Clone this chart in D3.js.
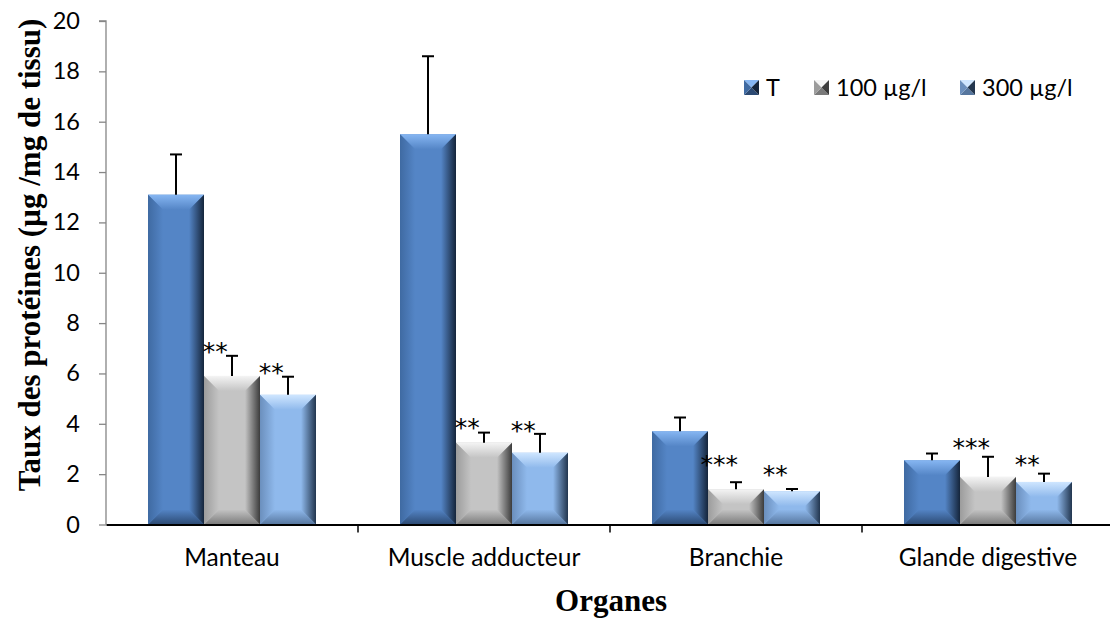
<!DOCTYPE html>
<html>
<head>
<meta charset="utf-8">
<script src="https://cdn.jsdelivr.net/npm/d3@7"></script>
<style>
  html, body { margin: 0; padding: 0; background: #fff; }
  svg { display: block; }
</style>
</head>
<body>
<svg id="chart" width="1110" height="621"></svg>
<script>
// ---- data ----
const categories = ["Manteau", "Muscle adducteur", "Branchie", "Glande digestive"];
const seriesNames = ["T", "100 µg/l", "300 µg/l"];
const valuesT   = [13.1, 15.5, 3.7, 2.55];
const values100 = [5.9, 3.25, 1.4, 1.89];
const values300 = [5.15, 2.85, 1.32, 1.69];
const errT   = [1.6, 3.1, 0.55, 0.27];
const err100 = [0.8, 0.4, 0.28, 0.8];
const err300 = [0.72, 0.75, 0.09, 0.33];
// significance marks: [category index, series index, text, level (axis units)]
const marks = [
  [0, 1, "**", 7.1], [0, 2, "**", 6.25],
  [1, 1, "**", 4.05], [1, 2, "**", 3.95],
  [2, 1, "***", 2.6], [2, 2, "**", 2.2],
  [3, 1, "***", 3.25], [3, 2, "**", 2.6]
];
const yTicks = [0, 2, 4, 6, 8, 10, 12, 14, 16, 18, 20];
const yTitle = "Taux des protéines (µg /mg de tissu)";
const xTitle = "Organes";

(function () {
const seriesValues = [valuesT, values100, values300];
const seriesErr = [errT, err100, err300];

const palettes = [
  { base: "#5485c6", top: "#86b6f2", left: "#3f6aa2", right: "#15253b", bottom: "#2c4a73" },
  { base: "#c4c4c4", top: "#f4f4f4", left: "#9c9c9c", right: "#3c3c3c", bottom: "#7a7a7a" },
  { base: "#8fb9ec", top: "#cfe6ff", left: "#6b8fbd", right: "#22364f", bottom: "#56769e" }
];

// ---- layout ----
const svg = d3.select("#chart");
const pL = 106, pR = 1114, pT = 21, pB = 524.5;
const sans = "Lato, 'Open Sans', sans-serif";
const serif = "'Liberation Serif', 'Times New Roman', serif";

const x0 = d3.scaleBand().domain(categories).range([pL, pR]).paddingInner(0).paddingOuter(0);
const x1 = d3.scaleBand().domain(d3.range(3)).range([0, x0.bandwidth()]).paddingInner(0).paddingOuter(0.75);
const y = d3.scaleLinear().domain([0, 20]).range([pB, pT]);

// gradients
const defs = svg.append("defs");
palettes.forEach((p, i) => {
  const mk = (id, ax, ay, bx, by, c1, c2) => {
    const g = defs.append("linearGradient").attr("id", id)
      .attr("x1", ax).attr("y1", ay).attr("x2", bx).attr("y2", by);
    g.append("stop").attr("offset", "0%").attr("stop-color", c1);
    g.append("stop").attr("offset", "100%").attr("stop-color", c2);
  };
  mk("gTop" + i, 0, 0, 0, 1, p.top, p.base);
  mk("gBot" + i, 0, 0, 0, 1, p.base, p.bottom);
  mk("gLeft" + i, 0, 0, 1, 0, p.left, p.base);
  mk("gRight" + i, 0, 0, 1, 0, p.base, p.right);
});

function bevelBox(g, xa, ya, w, h, si, bev) {
  const b = Math.min(bev, w / 2, h / 2);
  const xb = xa + w, yb = ya + h;
  g.append("rect").attr("x", xa).attr("y", ya).attr("width", w).attr("height", h).attr("fill", palettes[si].base);
  const poly = (pts, fill) => g.append("polygon").attr("points", pts.map(p => p.join(",")).join(" ")).attr("fill", fill);
  poly([[xa, ya], [xb, ya], [xb - b, ya + b], [xa + b, ya + b]], `url(#gTop${si})`);
  poly([[xa, yb], [xb, yb], [xb - b, yb - b], [xa + b, yb - b]], `url(#gBot${si})`);
  poly([[xa, ya], [xa + b, ya + b], [xa + b, yb - b], [xa, yb]], `url(#gLeft${si})`);
  poly([[xb, ya], [xb - b, ya + b], [xb - b, yb - b], [xb, yb]], `url(#gRight${si})`);
}

// y axis
const yAxis = d3.axisLeft(y).tickValues(yTicks).tickSize(7).tickPadding(19).tickFormat(d3.format("d"));
const gy = svg.append("g").attr("transform", `translate(${pL},0)`).call(yAxis);
gy.select(".domain").attr("stroke", "#868686").attr("stroke-width", 1.3).attr("d", `M-7,${pT}H0V${pB}`);
gy.selectAll(".tick line").attr("stroke", "#868686").attr("stroke-width", 1.3);
gy.selectAll(".tick text").attr("fill", "#000").style("font-family", sans).style("font-size", "23.5px");

// bars
const barsG = svg.append("g");
categories.forEach((c, ci) => {
  seriesValues.forEach((vals, si) => {
    const xa = x0(c) + x1(si);
    const w = x1.bandwidth();
    const ya = y(vals[ci]);
    bevelBox(barsG, xa, ya, w, y(0) - ya, si, 15);
  });
});

// error bars
const errG = svg.append("g").attr("stroke", "#000").attr("stroke-width", 2);
categories.forEach((c, ci) => {
  seriesValues.forEach((vals, si) => {
    const cx = x0(c) + x1(si) + x1.bandwidth() / 2;
    const yv = y(vals[ci]), ye = y(vals[ci] + seriesErr[si][ci]);
    errG.append("line").attr("x1", cx).attr("x2", cx).attr("y1", yv).attr("y2", ye);
    errG.append("line").attr("x1", cx - 6).attr("x2", cx + 6).attr("y1", ye).attr("y2", ye);
  });
});

// x axis
const xAxis = d3.axisBottom(x0).tickSize(0).tickPadding(24);
const gx = svg.append("g").attr("transform", `translate(0,${pB})`).call(xAxis);
gx.select(".domain").attr("stroke", "#000").attr("stroke-width", 2);
gx.selectAll(".tick text").attr("fill", "#000").style("font-family", sans).style("font-size", "24.5px");
gx.selectAll(".bound").data(categories).enter().append("line")
  .attr("class", "bound")
  .attr("x1", d => x0(d) + x0.bandwidth())
  .attr("x2", d => x0(d) + x0.bandwidth())
  .attr("y1", 0).attr("y2", 8).attr("stroke", "#000").attr("stroke-width", 1.5);

// significance marks
svg.append("g").selectAll("text").data(marks).enter().append("text")
  .attr("x", d => x0(categories[d[0]]) + x1(d[1]) + x1.bandwidth() * 0.2)
  .attr("y", d => y(d[3]))
  .attr("dy", "0.55em")
  .attr("text-anchor", "middle")
  .style("font-family", "'DejaVu Sans', sans-serif")
  .style("font-size", "25px")
  .attr("fill", "#000")
  .text(d => d[2]);

// legend
const legendPos = [[744, 766], [814, 836], [960, 982]];
const lg = svg.append("g");
seriesNames.forEach((n, i) => {
  const sx = legendPos[i][0], sy = 80;
  const s = 15;
  const pts = (arr) => arr.map(p => p.join(",")).join(" ");
  const p = palettes[i];
  lg.append("polygon").attr("points", pts([[sx, sy], [sx + s, sy], [sx + s / 2, sy + s / 2]])).attr("fill", p.top);
  lg.append("polygon").attr("points", pts([[sx, sy + s], [sx + s, sy + s], [sx + s / 2, sy + s / 2]])).attr("fill", p.bottom);
  lg.append("polygon").attr("points", pts([[sx, sy], [sx, sy + s], [sx + s / 2, sy + s / 2]])).attr("fill", p.left);
  lg.append("polygon").attr("points", pts([[sx + s, sy], [sx + s, sy + s], [sx + s / 2, sy + s / 2]])).attr("fill", p.right);
  lg.append("text").attr("x", legendPos[i][1]).attr("y", sy + s / 2).attr("dy", "0.36em")
    .style("font-family", sans).style("font-size", "23.5px").attr("fill", "#000").text(n);
});

// axis titles
svg.append("text").attr("transform", `translate(40,255) rotate(-90)`)
  .attr("text-anchor", "middle")
  .style("font-family", serif)
  .style("font-weight", "bold").style("font-size", "31px").attr("fill", "#000")
  .text(yTitle);
svg.append("text").attr("x", 611).attr("y", 611).attr("text-anchor", "middle")
  .style("font-family", serif)
  .style("font-weight", "bold").style("font-size", "31px").attr("fill", "#000")
  .text(xTitle);
})();
</script>
</body>
</html>
